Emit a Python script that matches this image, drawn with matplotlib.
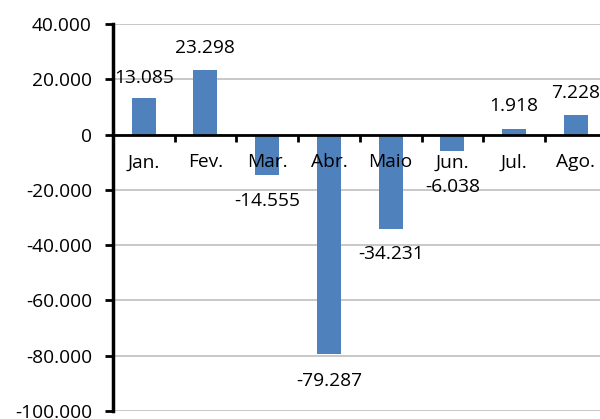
import matplotlib
matplotlib.use("Agg")
import matplotlib.pyplot as plt
import numpy as np

categories = ["Jan.", "Fev.", "Mar.", "Abr.", "Maio", "Jun.", "Jul.", "Ago."]
values = [13085, 23298, -14555, -79287, -34231, -6038, 1918, 7228]
y_ticks = [40000, 20000, 0, -20000, -40000, -60000, -80000, -100000]
label_offsets_px = [-20, -22, 26, 27, 25, 36, -23, -22]

plt.rcParams['font.family'] = ['Open Sans', 'DejaVu Sans']
FS = 13.8

def fmt(v):
    s = f"{abs(v):,}".replace(",", ".")
    return ("-" if v < 0 else "") + s

fig = plt.figure(figsize=(6, 4.19), dpi=100)
ax = fig.add_axes([0.188, 0.0191, 0.8233, 0.9236])
x = np.arange(len(categories))
ax.bar(x, values, width=0.39, color="#4F81BD", zorder=3)
ax.set_xlim(-0.5, len(categories) - 0.5)
ax.set_ylim(-100000, 40000)
ax.set_yticks(y_ticks)
ax.set_yticklabels([fmt(v) for v in y_ticks], fontsize=FS)
ax.yaxis.grid(True, color="#BFBFBF", linewidth=1.2, zorder=0)
ax.tick_params(axis='y', length=6, width=2, direction='out', pad=9)

ax.spines['top'].set_visible(False)
ax.spines['right'].set_visible(False)
ax.spines['left'].set_linewidth(2.5)
ax.spines['bottom'].set_position(('data', 0))
ax.spines['bottom'].set_linewidth(2)
ax.spines['bottom'].set_zorder(4)

ax.set_xticks(x)
ax.set_xticklabels([])
ax.tick_params(axis='x', which='major', length=0)
ax.set_xticks(np.arange(len(categories)) + 0.5, minor=True)
ax.tick_params(axis='x', which='minor', length=5, width=2, direction='out')

for xi, c in zip(x, categories):
    ax.annotate(c, (xi, 0), xytext=(0, -20), textcoords='offset points',
                ha='center', va='center', fontsize=FS, zorder=6)

for xi, v, off in zip(x, values, label_offsets_px):
    ax.annotate(fmt(v), (xi, v), xytext=(0, -off * 0.72), textcoords='offset points',
                ha='center', va='center', fontsize=FS, zorder=5)

fig.savefig("out.png", dpi=100)
